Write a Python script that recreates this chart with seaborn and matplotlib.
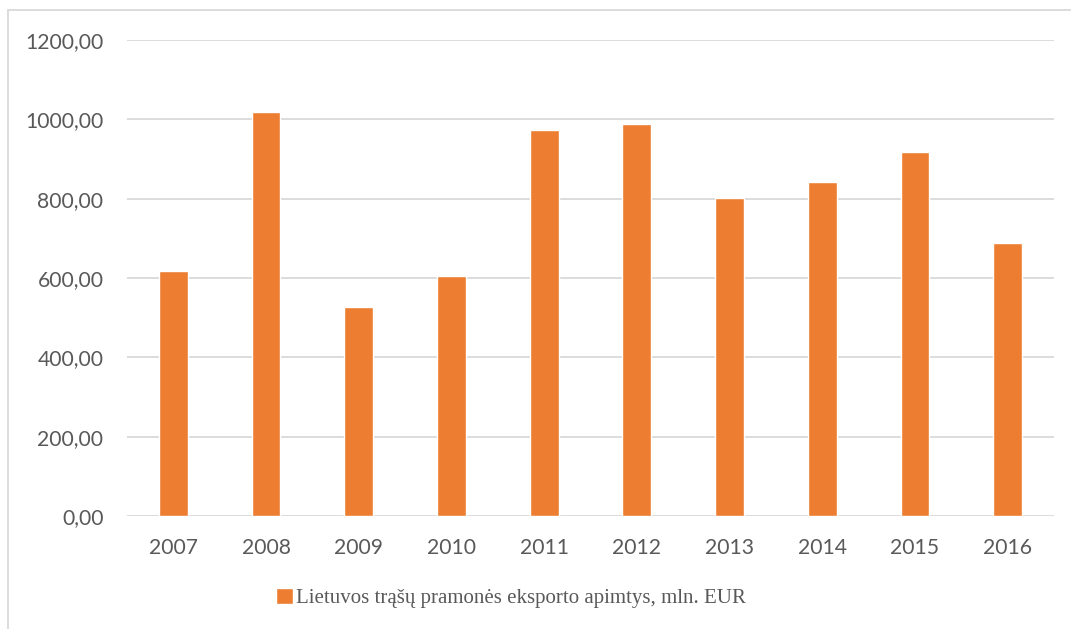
import matplotlib
matplotlib.use("Agg")
import matplotlib.pyplot as plt
import seaborn as sns
import pandas as pd
from matplotlib.patches import Rectangle

years = ["2007", "2008", "2009", "2010", "2011", "2012", "2013", "2014", "2015", "2016"]
values = [618, 1019, 527, 605, 973, 989, 802, 842, 918, 688]
series_label = "Lietuvos trąšų pramonės eksporto apimtys, mln. EUR"
y_ticks = [0, 200, 400, 600, 800, 1000, 1200]
y_tick_labels = ["0,00", "200,00", "400,00", "600,00", "800,00", "1000,00", "1200,00"]

sns.set_theme(style="white")
plt.rcParams['font.family'] = ['Lato', 'DejaVu Sans']

W, H = 1071, 629
fig = plt.figure(figsize=(W / 100, H / 100), dpi=100)
ax = fig.add_axes([127 / W, 1 - 516 / H, (1054 - 127) / W, (516 - 40) / H])

df = pd.DataFrame({"year": years, "value": values})
sns.barplot(data=df, x="year", y="value", color="#ED7D31", saturation=1,
            width=0.31, ax=ax, label=series_label)

ax.set_ylim(0, 1200)
ax.set_xlim(-0.5, len(years) - 0.5)
ax.set_yticks(y_ticks)
ax.set_yticklabels(y_tick_labels)
ax.yaxis.grid(True, color="#d9d9d9", linewidth=1.3)
ax.set_axisbelow(True)
for s in ax.spines.values():
    s.set_visible(False)
ax.tick_params(axis="both", length=0, labelsize=15.2, labelcolor="#595959")
ax.tick_params(axis="y", pad=17)
ax.tick_params(axis="x", pad=16)
ax.set_xlabel("")
ax.set_ylabel("")
if ax.get_legend():
    ax.get_legend().remove()

# chart outer border
fig.patches.append(Rectangle((8 / W, -0.1), 1.2, (629 - 10) / H + 0.1,
                             transform=fig.transFigure, fill=False,
                             edgecolor="#d9d9d9", linewidth=1.3, clip_on=False))

handles, labels = ax.get_legend_handles_labels()
leg = fig.legend(handles, labels, loc="center", bbox_to_anchor=(511 / W, 1 - 598 / H),
                 frameon=False, handlelength=0.85, handleheight=0.85, handletextpad=0.15,
                 prop={"family": "Liberation Serif", "size": 15})
for t in leg.get_texts():
    t.set_color("#595959")

fig.savefig("out.png", dpi=100)
